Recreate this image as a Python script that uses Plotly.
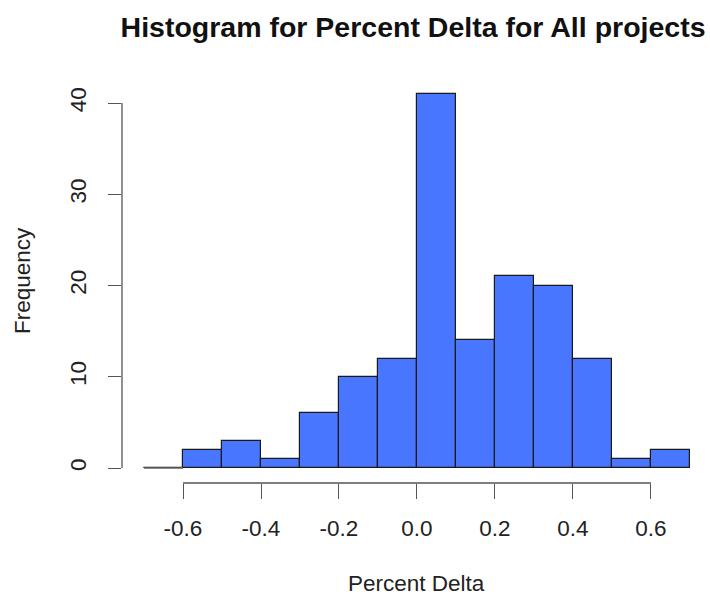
import plotly.graph_objects as go

# Histogram bins of width 0.1 and their counts
bin_edges = [-0.7, -0.6, -0.5, -0.4, -0.3, -0.2, -0.1, 0.0, 0.1, 0.2, 0.3, 0.4, 0.5, 0.6, 0.7]
counts = [0, 2, 3, 1, 6, 10, 12, 41, 14, 21, 20, 12, 1, 2]
x_ticks = [-0.6, -0.4, -0.2, 0.0, 0.2, 0.4, 0.6]
x_tick_text = ["-0.6", "-0.4", "-0.2", "0.0", "0.2", "0.4", "0.6"]
y_ticks = [0, 10, 20, 30, 40]

centers = [(a + b) / 2 for a, b in zip(bin_edges[:-1], bin_edges[1:])]
widths = [b - a for a, b in zip(bin_edges[:-1], bin_edges[1:])]

FONT = "Liberation Sans, Arial, Helvetica, sans-serif"
AXIS_COLOR = "#555555"
TEXT_COLOR = "#222222"
LABEL_SIZE = 22.5

fig = go.Figure()
fig.add_trace(go.Bar(
    x=centers, y=counts, width=widths,
    marker=dict(color="#4876FF", line=dict(color="#1a1a1a", width=1.2)),
    hoverinfo="x+y",
))

# Empty bins are drawn as a flat outline on the baseline
for c, w, n in zip(centers, widths, counts):
    if n == 0:
        fig.add_trace(go.Scatter(
            x=[c - w / 2, c + w / 2], y=[0, 0], mode="lines",
            line=dict(color="#666666", width=1.5), hoverinfo="skip",
        ))

# R-style axis lines spanning only the tick range
fig.add_shape(type="line", xref="x", yref="paper",
              x0=x_ticks[0], x1=x_ticks[-1], y0=0, y1=0,
              line=dict(color=AXIS_COLOR, width=1.3))
fig.add_shape(type="line", xref="paper", yref="y",
              x0=0, x1=0, y0=y_ticks[0], y1=y_ticks[-1],
              line=dict(color=AXIS_COLOR, width=1.3))

fig.update_layout(
    width=710, height=599,
    margin=dict(l=122, r=0, t=79, b=116),
    paper_bgcolor="white", plot_bgcolor="white",
    showlegend=False, bargap=0,
    font=dict(family=FONT, color=TEXT_COLOR, size=LABEL_SIZE),
    title=dict(
        text="<b>Histogram for Percent Delta for All projects</b>",
        font=dict(family=FONT, size=28.5, color="#111111"),
        xref="paper", x=0.495, xanchor="center",
        yref="container", y=1 - 27 / 599, yanchor="middle",
    ),
    xaxis=dict(
        range=[-0.7564, 0.7513], tickvals=x_ticks, ticktext=x_tick_text,
        showgrid=False, zeroline=False, showline=False,
        ticks="outside", ticklen=15, tickwidth=1.3, tickcolor=AXIS_COLOR,
        ticklabelstandoff=10,
        tickfont=dict(size=LABEL_SIZE, color=TEXT_COLOR),
    ),
    yaxis=dict(
        range=[-1.64, 42.64], tickvals=y_ticks,
        showgrid=False, zeroline=False, showline=False,
        ticks="outside", ticklen=13, tickwidth=1.3, tickcolor=AXIS_COLOR,
        tickangle=-90, ticklabelstandoff=13,
        tickfont=dict(size=LABEL_SIZE, color=TEXT_COLOR),
    ),
    annotations=[
        dict(text="Percent Delta", xref="paper", yref="paper",
             x=0.5, y=(483 - 583) / 404, xanchor="center", yanchor="middle",
             showarrow=False, font=dict(size=LABEL_SIZE, color=TEXT_COLOR)),
        dict(text="Frequency", xref="paper", yref="paper",
             x=(22 - 122) / 588, y=0.5, xanchor="center", yanchor="middle",
             textangle=-90, showarrow=False,
             font=dict(size=LABEL_SIZE, color=TEXT_COLOR)),
    ],
)

fig.write_html("out.html")
